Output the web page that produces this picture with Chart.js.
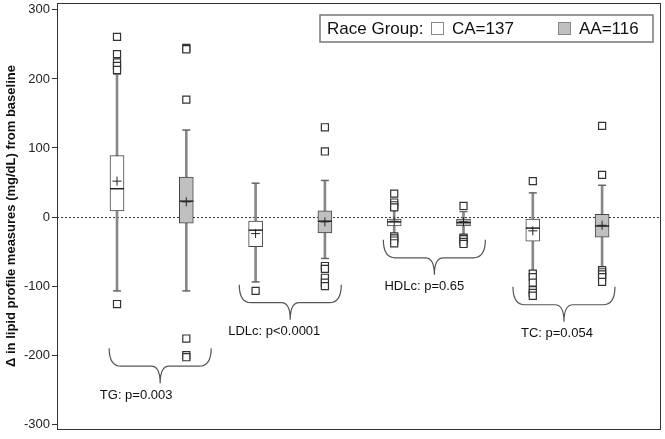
<!DOCTYPE html>
<html>
<head>
<meta charset="utf-8">
<script src="https://cdn.jsdelivr.net/npm/chart.js@4/dist/chart.umd.min.js"></script>
<style>
  html, body { margin: 0; padding: 0; background: #fff; }
  #wrap { width: 665px; height: 439px; }
</style>
</head>
<body>
<div id="wrap"><canvas id="lipids"></canvas></div>
<script>
const groups = ["TG", "LDLc", "HDLc", "TC"];
const pLabels = ["TG: p=0.003", "LDLc: p<0.0001", "HDLc: p=0.65", "TC: p=0.054"];
const races = ["CA=137", "AA=116"];
const legendTitle = "Race Group:";
const yTitle = "\u0394 in lipid profile measures (mg/dL) from baseline";

// one entry per box: TG CA, TG AA, LDLc CA, LDLc AA, HDLc CA, HDLc AA, TC CA, TC AA
const boxPos = [1, 2, 3, 4, 5, 6, 7, 8];
const whiskerLow = [-107, -107, -94, -60, -26, -26, -78, -75];
const q1 = [9, -9, -43, -23, -13, -13, -35, -29];
const median = [41, 23, -19, -6, -7, -8, -16, -13];
const q3 = [89, 58, -6, 9, -3, -3, -3, 4];
const whiskerHigh = [207, 126, 49, 53, 11, 8, 35, 46];
const means = [52, 22, -24, -7, -6, -7, -20, -12];
const outliers = [
    [261, 236, 224, 219, 213, -126],
    [245, 243, 170, -176, -200, -203],
    [-107],
    [130, 95, -71, -75, -88, -95, -100],
    [34, 21, 17, 14, -28, -31, -34, -38],
    [16, -30, -32, -36, -39],
    [52, -82, -87, -95, -106, -110, -114],
    [132, 61, -77, -80, -83, -87, -94],
];

const boxColors = ["#ffffff", "#c0c0c0"];
const font = "'Liberation Sans', Arial, sans-serif";

function boxData(race) {
    let result = [];
    boxPos.forEach((x, i) => {
        if (i % 2 == race) result.push({ x: x, y: [q1[i], q3[i]] });
    });
    return result;
}

let whiskers = [];
let caps = [];
let medians = [];
let meanPts = [];
let outPts = [];
boxPos.forEach((x, i) => {
    whiskers.push({ x: x, y: [whiskerLow[i], whiskerHigh[i]] });
    caps.push({ x: x, y: whiskerLow[i] });
    caps.push({ x: x, y: whiskerHigh[i] });
    medians.push({ x: x, y: median[i] });
    meanPts.push({ x: x, y: means[i] });
    outliers[i].forEach((v) => outPts.push({ x: x, y: v }));
});

// braces and p-value labels under each pair of boxes
const braceTop = [-190, -98, -33, -101];
const braceShift = [8.5, 0, 5.5, -3.5];
const labelShift = [-24, -16, -10, -7];

const extras = {
    id: "extras",
    beforeDatasetsDraw(chart) {
        const { ctx, chartArea: a, scales } = chart;
        const y0 = scales.y.getPixelForValue(0);
        ctx.save();
        ctx.strokeStyle = "#333";
        ctx.lineWidth = 1;
        ctx.setLineDash([2, 2]);
        ctx.beginPath();
        ctx.moveTo(a.left, y0 + 0.5);
        ctx.lineTo(a.right, y0 + 0.5);
        ctx.stroke();
        ctx.restore();
    },
    afterDatasetsDraw(chart) {
        const { ctx, chartArea: a, scales } = chart;
        const x = scales.x;
        const y = scales.y;
        ctx.save();
        // frame
        ctx.strokeStyle = "#333";
        ctx.lineWidth = 1;
        ctx.strokeRect(a.left + 0.5, a.top + 0.5, a.right - a.left - 1, a.bottom - a.top);

        // braces
        ctx.strokeStyle = "#555";
        ctx.lineWidth = 1.2;
        ctx.fillStyle = "#111";
        ctx.font = "13px " + font;
        ctx.textAlign = "center";
        ctx.textBaseline = "middle";
        groups.forEach((g, k) => {
            const c = (x.getPixelForValue(boxPos[2 * k]) + x.getPixelForValue(boxPos[2 * k + 1])) / 2 + braceShift[k];
            const L = c - 51;
            const R = c + 51;
            const top = y.getPixelForValue(braceTop[k]);
            const mid = top + 18;
            const tip = top + 35;
            ctx.beginPath();
            ctx.moveTo(L, top);
            ctx.quadraticCurveTo(L, mid, L + 12, mid);
            ctx.lineTo(c - 9, mid);
            ctx.quadraticCurveTo(c, mid, c, tip);
            ctx.quadraticCurveTo(c, mid, c + 9, mid);
            ctx.lineTo(R - 12, mid);
            ctx.quadraticCurveTo(R, mid, R, top);
            ctx.stroke();
            ctx.fillText(pLabels[k], c + labelShift[k], tip + 12);
        });

        // legend box
        const lx = a.right - 341;
        const ly = a.top + 12;
        ctx.strokeStyle = "#777";
        ctx.lineWidth = 1.5;
        ctx.strokeRect(lx, ly, 333, 27);
        ctx.font = "17px " + font;
        ctx.textAlign = "left";
        ctx.fillStyle = "#111";
        ctx.fillText(legendTitle, lx + 7, ly + 14);
        const sq = [lx + 111, lx + 238];
        races.forEach((r, i) => {
            ctx.fillStyle = boxColors[i];
            ctx.fillRect(sq[i], ly + 7, 13, 13);
            ctx.strokeStyle = "#888";
            ctx.lineWidth = 1;
            ctx.strokeRect(sq[i] + 0.5, ly + 7.5, 12, 12);
            ctx.fillStyle = "#111";
            ctx.fillText(r, sq[i] + 21, ly + 14);
        });
        ctx.restore();
    },
};

const chart = new Chart(document.getElementById("lipids").getContext("2d"), {
    type: "bar",
    data: {
        datasets: [{
                type: "scatter",
                label: "outliers",
                data: outPts,
                pointStyle: "rect",
                pointRadius: 5,
                borderColor: "#333",
                borderWidth: 1.2,
                backgroundColor: "#fff",
                order: 1,
            },
            {
                type: "scatter",
                label: "means",
                data: meanPts,
                pointStyle: "cross",
                pointRadius: 4.5,
                borderColor: "#222",
                borderWidth: 1,
                order: 2,
            },
            {
                type: "scatter",
                label: "medians",
                data: medians,
                pointStyle: "line",
                pointRadius: 7,
                borderColor: "#222",
                borderWidth: 1.5,
                order: 3,
            },
            {
                type: "scatter",
                label: "caps",
                data: caps,
                pointStyle: "line",
                pointRadius: 4,
                borderColor: "#666",
                borderWidth: 1.5,
                order: 3,
            },
            {
                label: races[0],
                data: boxData(0),
                backgroundColor: boxColors[0],
                borderColor: "#444",
                borderWidth: 1,
                borderSkipped: false,
                barThickness: 14,
                grouped: false,
                order: 4,
            },
            {
                label: races[1],
                data: boxData(1),
                backgroundColor: boxColors[1],
                borderColor: "#444",
                borderWidth: 1,
                borderSkipped: false,
                barThickness: 14,
                grouped: false,
                order: 4,
            },
            {
                label: "whiskers",
                data: whiskers,
                backgroundColor: "#888",
                borderWidth: 0,
                barThickness: 2,
                grouped: false,
                order: 5,
            },
        ],
    },
    options: {
        responsive: true,
        maintainAspectRatio: false,
        animation: false,
        layout: { autoPadding: false, padding: { left: 0, right: 4, top: 3, bottom: 10 } },
        plugins: {
            legend: { display: false },
            tooltip: { enabled: false },
        },
        scales: {
            x: {
                type: "linear",
                display: false,
                min: 0.134,
                max: 8.85,
                offset: false,
            },
            y: {
                min: -307,
                max: 310,
                afterFit: function(scale) {
                    scale.width = 57;
                    scale.paddingTop = 0;
                    scale.paddingBottom = 0;
                },
                ticks: {
                    stepSize: 100,
                    includeBounds: false,
                    padding: 2,
                    color: "#222",
                    font: { family: font, size: 13 },
                },
                grid: {
                    drawOnChartArea: false,
                    drawTicks: true,
                    tickLength: 5,
                    color: "#333",
                },
                border: { display: true, color: "#333" },
                title: {
                    display: true,
                    text: yTitle,
                    color: "#111",
                    font: { family: font, size: 13, weight: "bold" },
                },
            },
        },
    },
    plugins: [extras],
});
</script>
</body>
</html>
